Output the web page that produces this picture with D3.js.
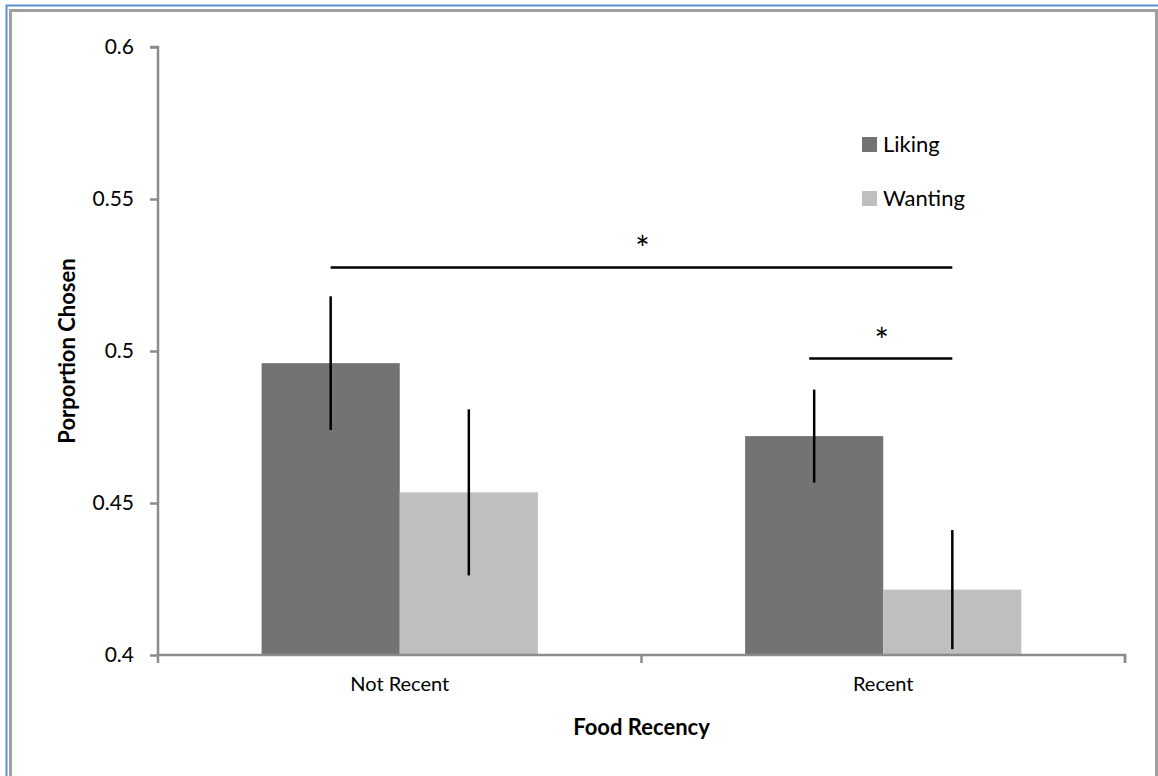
<!DOCTYPE html>
<html>
<head>
<meta charset="utf-8">
<script src="https://cdn.jsdelivr.net/npm/d3@7"></script>
<style>
  body { margin: 0; background: #fff; }
  svg { display: block; }
  text { font-family: Lato, "Open Sans", sans-serif; fill: #000; }
</style>
</head>
<body>
<svg id="chart" width="1158" height="776"></svg>
<script>
// Proportion of foods chosen, by recency and rating type
const categories = ["Not Recent", "Recent"];
const seriesNames = ["Liking", "Wanting"];
const likingValues = [0.496, 0.472];
const wantingValues = [0.4535, 0.4215];
const likingErrors = [0.022, 0.0153];
const wantingErrors = [0.0273, 0.0196];
const yTicks = [0.4, 0.45, 0.5, 0.55, 0.6];

const colors = { Liking: "#737373", Wanting: "#bfbfbf" };

const svg = d3.select("#chart");

// Frame around the chart area
svg.append("rect").attr("x", 6.5).attr("y", 5.5).attr("width", 1200).attr("height", 800)
  .attr("fill", "none").attr("stroke", "#5b8fd0").attr("stroke-width", 2);
svg.append("rect").attr("x", 10.5).attr("y", 10.5).attr("width", 1146).attr("height", 800)
  .attr("fill", "none").attr("stroke", "#a0a0a0").attr("stroke-width", 3);

const plotLeft = 158, plotRight = 1125, plotTop = 47, plotBottom = 655;

const x = d3.scaleBand().domain(categories).range([plotLeft, plotRight]).paddingInner(0).paddingOuter(0);
const xInner = d3.scaleBand().domain(seriesNames).range([0, x.bandwidth()]).paddingInner(0).paddingOuter(0.75);
const y = d3.scaleLinear().domain([0.4, 0.6]).range([plotBottom, plotTop]);

const rows = categories.map((c, i) => ({
  category: c,
  bars: [
    { series: "Liking", value: likingValues[i], err: likingErrors[i] },
    { series: "Wanting", value: wantingValues[i], err: wantingErrors[i] }
  ]
}));

// Bars
const groups = svg.selectAll("g.cat").data(rows).join("g")
  .attr("class", "cat")
  .attr("transform", d => `translate(${x(d.category)},0)`);

groups.selectAll("rect").data(d => d.bars).join("rect")
  .attr("x", d => xInner(d.series))
  .attr("width", xInner.bandwidth())
  .attr("y", d => y(d.value))
  .attr("height", d => y(0.4) - y(d.value))
  .attr("fill", d => colors[d.series]);

// Error bars (no caps)
groups.selectAll("line.err").data(d => d.bars).join("line")
  .attr("class", "err")
  .attr("x1", d => xInner(d.series) + xInner.bandwidth() / 2)
  .attr("x2", d => xInner(d.series) + xInner.bandwidth() / 2)
  .attr("y1", d => y(d.value + d.err))
  .attr("y2", d => y(d.value - d.err))
  .attr("stroke", "#000").attr("stroke-width", 2.5);

// Y axis
const yAxis = svg.append("g").attr("transform", `translate(${plotLeft},0)`)
  .call(d3.axisLeft(y).tickValues(yTicks).tickSize(8).tickPadding(16)
    .tickFormat(d => d3.format("")(+d.toFixed(2))));
yAxis.select(".domain").attr("stroke", "#8c8c8c").attr("stroke-width", 2.5)
  .attr("d", `M-8,${plotTop}H0V${plotBottom}`);
yAxis.selectAll(".tick line").attr("stroke", "#8c8c8c").attr("stroke-width", 2.5);
yAxis.selectAll(".tick text").style("font-size", "21px").attr("fill", "#000");

// X axis
const xAxis = svg.append("g").attr("transform", `translate(0,${plotBottom})`)
  .call(d3.axisBottom(x).tickSize(0).tickPadding(22));
xAxis.select(".domain").attr("stroke", "#8c8c8c").attr("stroke-width", 2.5)
  .attr("d", `M${plotLeft},0H${plotRight}V8`);
xAxis.selectAll(".tick text").style("font-size", "20px").attr("fill", "#000");
// Category boundary ticks
const boundaries = [plotLeft, x("Recent"), plotRight];
xAxis.selectAll("line.bnd").data(boundaries).join("line")
  .attr("class", "bnd")
  .attr("x1", d => d).attr("x2", d => d).attr("y1", 0).attr("y2", 8)
  .attr("stroke", "#8c8c8c").attr("stroke-width", 2.5);

// Axis titles
svg.append("text").attr("x", (plotLeft + plotRight) / 2).attr("y", 735)
  .attr("text-anchor", "middle").style("font-size", "22px").style("font-weight", "bold")
  .text("Food Recency");
svg.append("text").attr("transform", `translate(75,${(plotTop + plotBottom) / 2}) rotate(-90)`)
  .attr("text-anchor", "middle").style("font-size", "22px").style("font-weight", "bold")
  .text("Porportion Chosen");

// Legend
const legend = svg.append("g").attr("transform", "translate(862,137)");
const items = legend.selectAll("g").data(seriesNames).join("g")
  .attr("transform", (d, i) => `translate(0,${i * 54})`);
items.append("rect").attr("width", 15).attr("height", 15).attr("fill", d => colors[d]);
items.append("text").attr("x", 21).attr("y", 15).style("font-size", "22px").text(d => d);

// Significance brackets
const centerOf = (cat, series) => x(cat) + xInner(series) + xInner.bandwidth() / 2;
const sig = [
  { x1: centerOf("Not Recent", "Liking"), x2: centerOf("Recent", "Wanting"), level: 0.5275 },
  { x1: centerOf("Recent", "Liking") - 5, x2: centerOf("Recent", "Wanting"), level: 0.4975 }
];
svg.selectAll("line.sig").data(sig).join("line")
  .attr("class", "sig")
  .attr("x1", d => d.x1).attr("x2", d => d.x2)
  .attr("y1", d => y(d.level)).attr("y2", d => y(d.level))
  .attr("stroke", "#000").attr("stroke-width", 2.5);
svg.selectAll("text.star").data(sig).join("text")
  .attr("class", "star")
  .attr("x", d => (d.x1 + d.x2) / 2 + 1)
  .attr("y", d => y(d.level) - 6)
  .attr("text-anchor", "middle").style("font-size", "34px")
  .text("*");
</script>
</body>
</html>
